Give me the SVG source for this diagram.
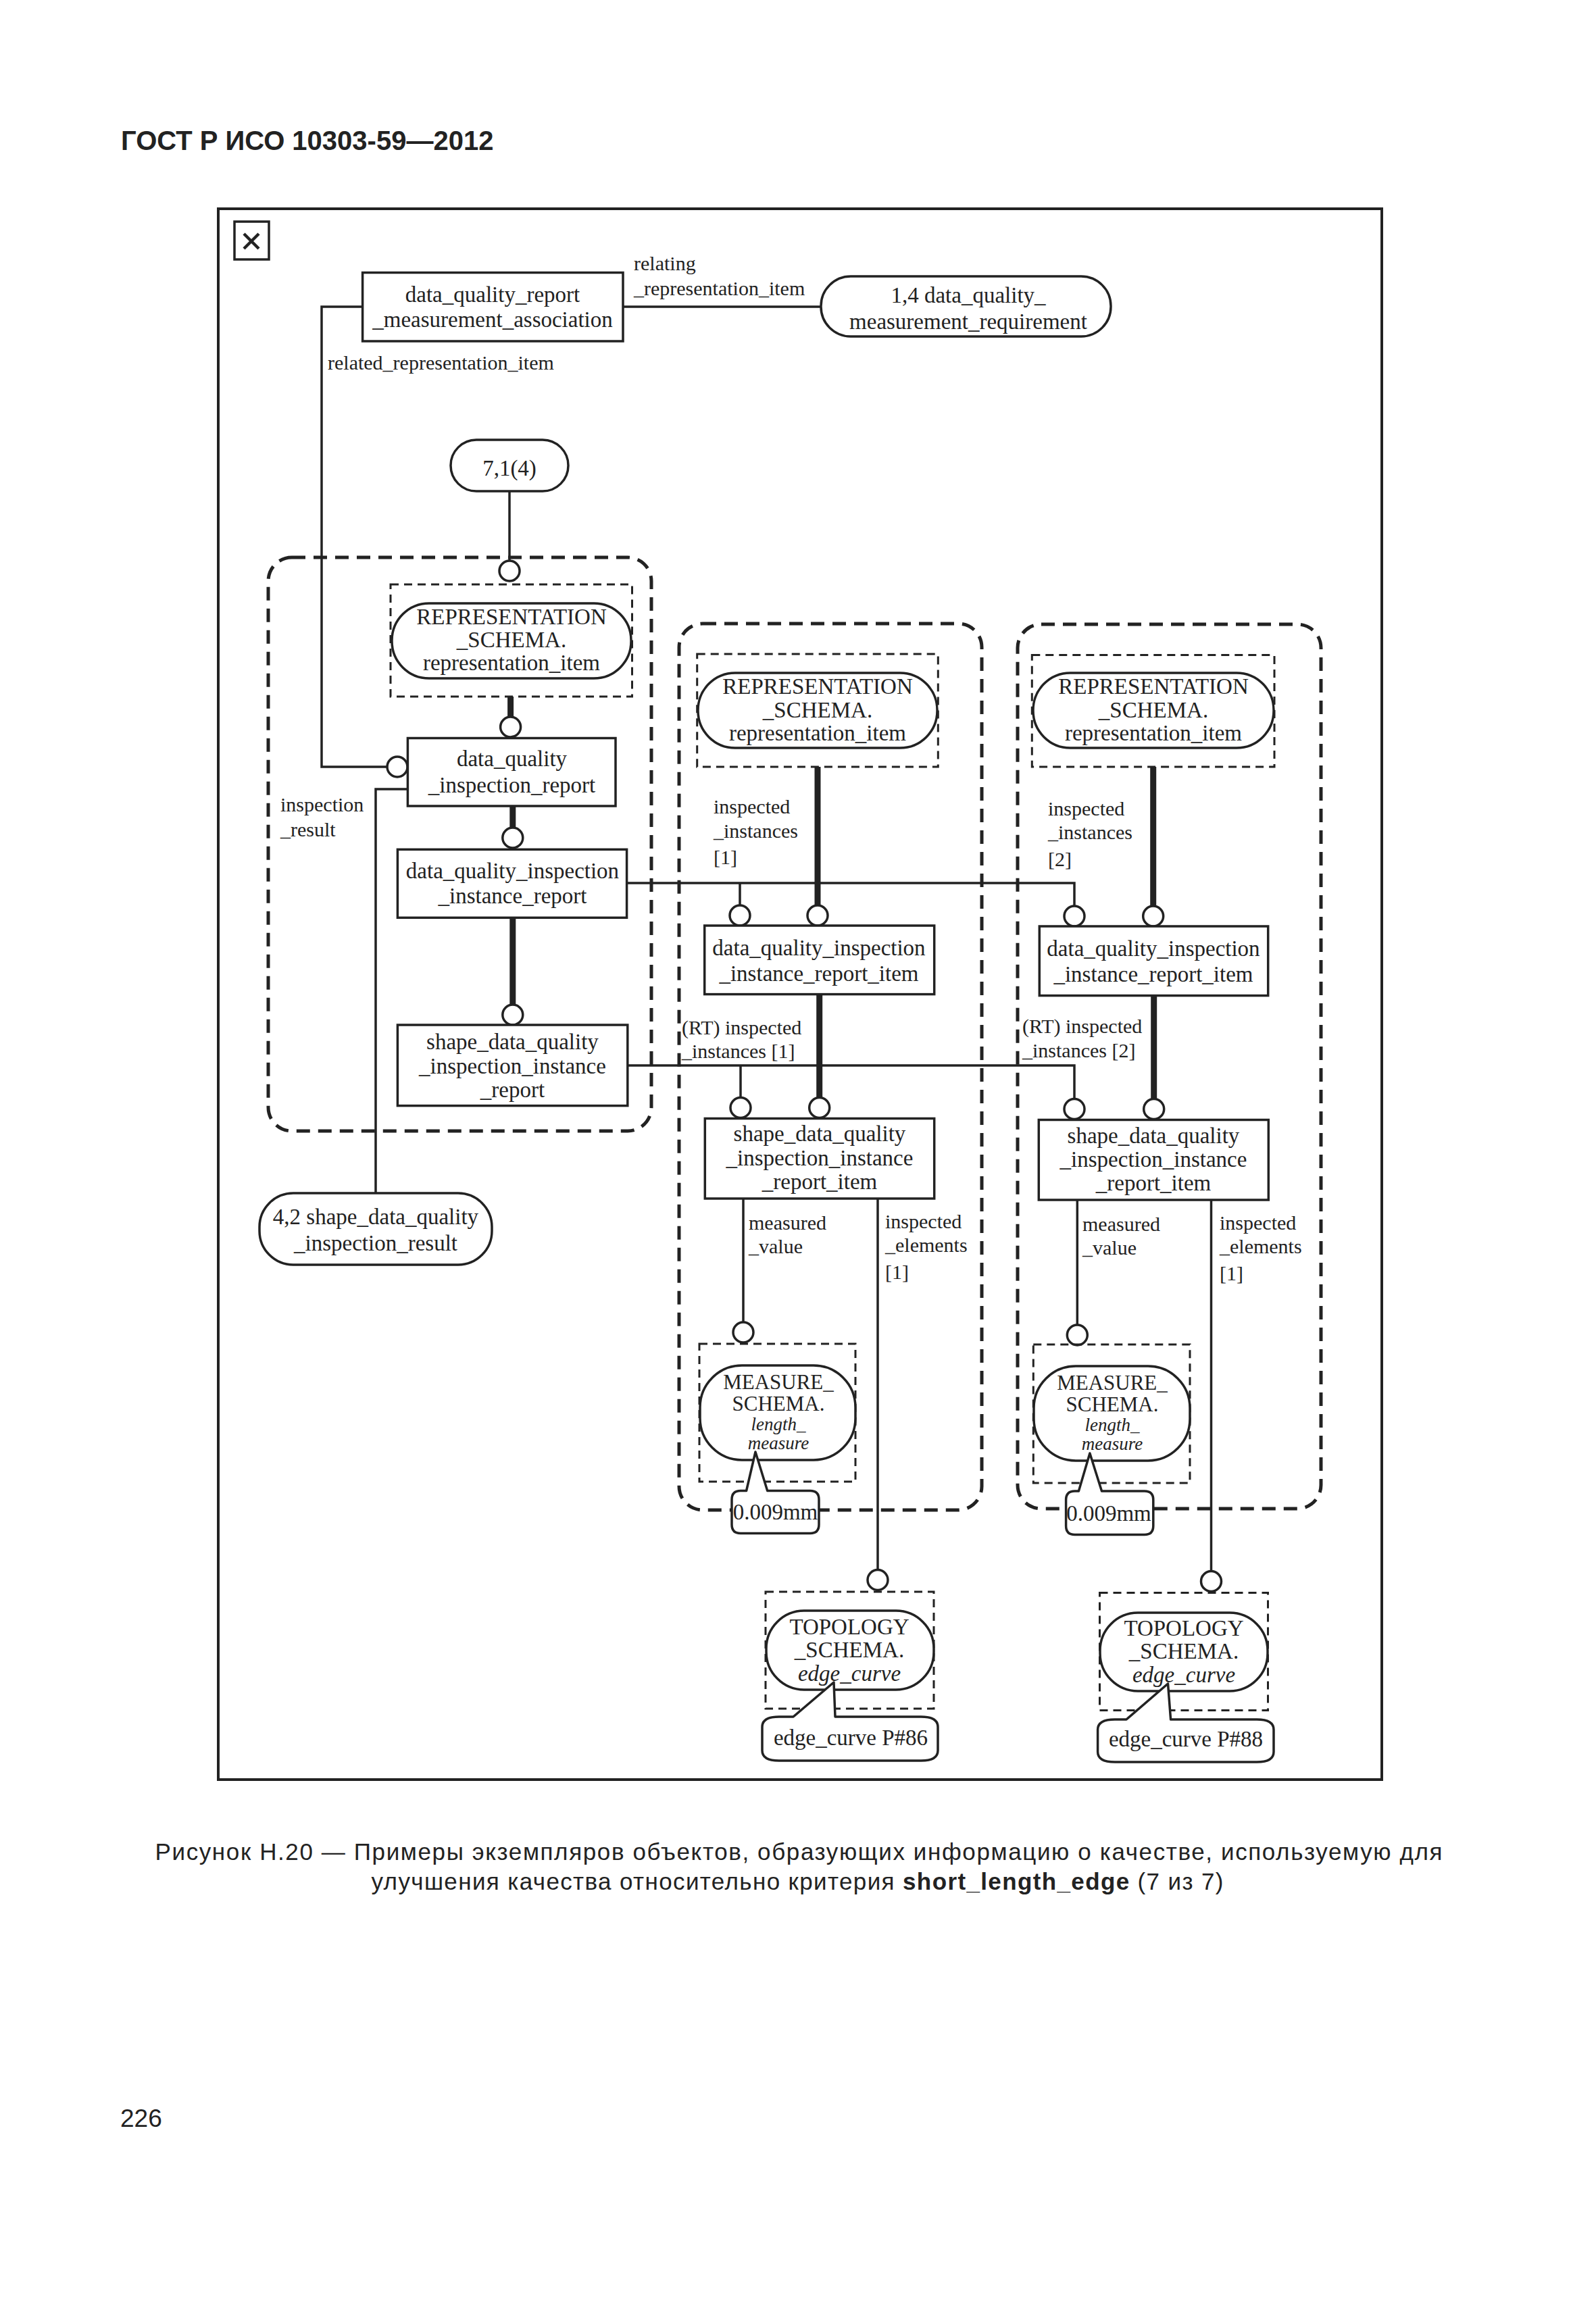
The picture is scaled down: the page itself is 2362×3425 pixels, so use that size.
<svg xmlns="http://www.w3.org/2000/svg" width="2362" height="3425" viewBox="0 0 2362 3425">
<style>
.frame{fill:none;stroke:#222;stroke-width:4}
.box{fill:#fff;stroke:#222;stroke-width:3.5}
.oval{fill:#fff;stroke:#222;stroke-width:3.5}
.grp{fill:none;stroke:#222;stroke-width:5;stroke-dasharray:20 12}
.sch{fill:none;stroke:#222;stroke-width:3;stroke-dasharray:12 8}
.ln{fill:none;stroke:#222;stroke-width:3.5}
.thk{fill:none;stroke:#222;stroke-width:9}
.circ{fill:#fff;stroke:#222;stroke-width:3.5}
.call{fill:#fff;stroke:#222;stroke-width:3.5;stroke-linejoin:round}
.t{font-family:"Liberation Serif","Times New Roman",serif;font-size:33px;fill:#222;text-anchor:middle}
.lb{font-family:"Liberation Serif","Times New Roman",serif;font-size:30px;fill:#222}
.it{font-style:italic}
.ms{font-size:31px}
.mi{font-size:27px}
.sans{font-family:"Liberation Sans",Arial,sans-serif;fill:#222}
</style>

<text class="sans" x="179" y="222" font-size="40" font-weight="bold">ГОСТ Р ИСО 10303-59—2012</text>

<rect class="frame" x="323" y="309" width="1722" height="2325"/>
<g id="close-icon">
<rect x="347" y="328" width="51" height="56" fill="#fff" stroke="#222" stroke-width="3.5"/>
<path d="M361,346 L383,368 M383,346 L361,368" stroke="#222" stroke-width="4.5" fill="none"/>
</g>

<g id="groups">
<rect class="grp" x="397" y="825" width="567" height="849" rx="35" ry="35"/>
<rect class="grp" x="1005" y="923" width="448" height="1312" rx="35" ry="35"/>
<rect class="grp" x="1506" y="924" width="449" height="1309" rx="35" ry="35"/>
</g>

<g id="connectors">
<path class="ln" d="M922,454 L1215,454"/>
<path class="ln" d="M536,454 L476,454 L476,1135 L573,1135"/>
<path class="ln" d="M603,1168 L556,1168 L556,1766"/>
<path class="ln" d="M754,727 L754,830"/>
<path class="thk" d="M755.6,1031 L755.6,1061"/>
<path class="thk" d="M758.8,1193 L758.8,1225"/>
<path class="thk" d="M758.8,1358 L758.8,1487"/>
<path class="ln" d="M927.6,1307 L1590,1307 L1590,1341"/>
<path class="ln" d="M1095,1307 L1095,1340"/>
<path class="ln" d="M928.8,1577 L1590,1577 L1590,1626.5"/>
<path class="ln" d="M1096,1577 L1096,1624.5"/>
<path class="thk" d="M1210,1135 L1210,1340"/>
<path class="thk" d="M1212.7,1471.6 L1212.7,1624.5"/>
<path class="thk" d="M1706.7,1135 L1706.7,1341"/>
<path class="thk" d="M1707.7,1473.6 L1707.7,1626.5"/>
<path class="ln" d="M1100,1774 L1100,1957"/>
<path class="ln" d="M1594.3,1776 L1594.3,1961"/>
<path class="ln" d="M1299,1774 L1299,2323.5"/>
<path class="ln" d="M1792.5,1776 L1792.5,2325.5"/>
<circle class="circ" cx="588" cy="1135" r="15"/>
<circle class="circ" cx="754" cy="845" r="15"/>
<circle class="circ" cx="755.6" cy="1076" r="15"/>
<circle class="circ" cx="758.8" cy="1240" r="15"/>
<circle class="circ" cx="758.8" cy="1502" r="15"/>
<circle class="circ" cx="1095" cy="1355" r="15"/>
<circle class="circ" cx="1210" cy="1355" r="15"/>
<circle class="circ" cx="1590" cy="1356" r="15"/>
<circle class="circ" cx="1706.7" cy="1356" r="15"/>
<circle class="circ" cx="1096" cy="1639.5" r="15"/>
<circle class="circ" cx="1212.7" cy="1639.5" r="15"/>
<circle class="circ" cx="1590" cy="1641.5" r="15"/>
<circle class="circ" cx="1707.7" cy="1641.5" r="15"/>
<circle class="circ" cx="1100" cy="1972" r="15"/>
<circle class="circ" cx="1594.3" cy="1976" r="15"/>
<circle class="circ" cx="1299" cy="2338.5" r="15"/>
<circle class="circ" cx="1792.5" cy="2340.5" r="15"/>
</g>

<g id="labels">
<text class="lb" x="938" y="400">relating</text>
<text class="lb" x="938" y="437">_representation_item</text>
<text class="lb" x="485" y="547">related_representation_item</text>
<text class="lb" x="415" y="1201">inspection</text>
<text class="lb" x="415" y="1238">_result</text>
<text class="lb" x="1056" y="1204">inspected</text>
<text class="lb" x="1056" y="1240">_instances</text>
<text class="lb" x="1056" y="1279">[1]</text>
<text class="lb" x="1551" y="1207">inspected</text>
<text class="lb" x="1551" y="1242">_instances</text>
<text class="lb" x="1551" y="1282">[2]</text>
<text class="lb" x="1009" y="1531">(RT) inspected</text>
<text class="lb" x="1009" y="1566">_instances [1]</text>
<text class="lb" x="1513" y="1529">(RT) inspected</text>
<text class="lb" x="1513" y="1565">_instances [2]</text>
<text class="lb" x="1108" y="1820">measured</text>
<text class="lb" x="1108" y="1855">_value</text>
<text class="lb" x="1602" y="1822">measured</text>
<text class="lb" x="1602" y="1857">_value</text>
<text class="lb" x="1310" y="1818">inspected</text>
<text class="lb" x="1310" y="1853">_elements</text>
<text class="lb" x="1310" y="1893">[1]</text>
<text class="lb" x="1805" y="1820">inspected</text>
<text class="lb" x="1805" y="1855">_elements</text>
<text class="lb" x="1805" y="1895">[1]</text>
</g>

<g id="n-dq-report-assoc">
<rect class="box" x="536.6" y="403.5" width="385.4" height="101.5"/>
<text class="t" x="729" y="447">data_quality_report</text>
<text class="t" x="729" y="484">_measurement_association</text>
</g>
<g id="n-dq-measurement-req">
<rect class="oval" x="1215" y="409" width="429" height="89" rx="44" ry="44"/>
<text class="t" x="1433" y="448">1,4 data_quality_</text>
<text class="t" x="1433" y="487">measurement_requirement</text>
</g>
<g id="n-ref-71">
<rect class="oval" x="667" y="651" width="174" height="76" rx="38" ry="38"/>
<text class="t" x="754" y="704">7,1(4)</text>
</g>
<g id="n-rep-item-1">
<rect class="sch" x="578" y="865" width="357.5" height="166"/>
<rect class="oval" x="580" y="893" width="354" height="111" rx="55" ry="55"/>
<text class="t" x="757" y="924">REPRESENTATION</text>
<text class="t" x="757" y="958">_SCHEMA.</text>
<text class="t" x="757" y="992">representation_item</text>
</g>
<g id="n-dq-insp-report">
<rect class="box" x="603.4" y="1092.5" width="307.6" height="100.5"/>
<text class="t" x="757.5" y="1134">data_quality</text>
<text class="t" x="757.5" y="1173">_inspection_report</text>
</g>
<g id="n-dq-insp-inst-report">
<rect class="box" x="588.4" y="1257.3" width="339.2" height="101"/>
<text class="t" x="758.5" y="1300">data_quality_inspection</text>
<text class="t" x="758.5" y="1337">_instance_report</text>
</g>
<g id="n-shape-dq-insp-inst-report">
<rect class="box" x="588.4" y="1517" width="340.4" height="119.6"/>
<text class="t" x="758.5" y="1553">shape_data_quality</text>
<text class="t" x="758.5" y="1589">_inspection_instance</text>
<text class="t" x="758.5" y="1624">_report</text>
</g>
<g id="n-shape-dq-insp-result">
<rect class="oval" x="384" y="1766" width="344" height="106" rx="50" ry="50"/>
<text class="t" x="556" y="1812">4,2 shape_data_quality</text>
<text class="t" x="556" y="1851">_inspection_result</text>
</g>

<g id="n-rep-item-2">
<rect class="sch" x="1031.7" y="968" width="356.6" height="167"/>
<rect class="oval" x="1033" y="996" width="354" height="111" rx="55" ry="55"/>
<text class="t" x="1210" y="1027">REPRESENTATION</text>
<text class="t" x="1210" y="1062">_SCHEMA.</text>
<text class="t" x="1210" y="1096">representation_item</text>
</g>
<g id="n-item-1">
<rect class="box" x="1042.7" y="1370" width="340" height="101.6"/>
<text class="t" x="1212" y="1414">data_quality_inspection</text>
<text class="t" x="1212" y="1452">_instance_report_item</text>
</g>
<g id="n-shape-item-1">
<rect class="box" x="1043.3" y="1655.5" width="339.4" height="118.5"/>
<text class="t" x="1213" y="1689">shape_data_quality</text>
<text class="t" x="1213" y="1725">_inspection_instance</text>
<text class="t" x="1213" y="1760">_report_item</text>
</g>
<g id="n-measure-1">
<rect class="sch" x="1035" y="1989" width="231" height="204"/>
<rect class="oval" x="1036" y="2021" width="230" height="140" rx="62" ry="62" stroke-width="4.5"/>
<text class="t ms" x="1152" y="2056">MEASURE_</text>
<text class="t ms" x="1152" y="2088">SCHEMA.</text>
<text class="t it mi" x="1152" y="2117">length_</text>
<text class="t it mi" x="1152" y="2145">measure</text>
</g>
<g id="n-value-1">
<path class="call" d="M1096,2206.5 L1104.6,2206.5 L1118,2149 L1135.7,2206.5 L1199,2206.5 Q1212,2206.5 1212,2219.5 L1212,2256.6 Q1212,2269.6 1199,2269.6 L1096,2269.6 Q1083,2269.6 1083,2256.6 L1083,2219.5 Q1083,2206.5 1096,2206.5 Z"/>
<text class="t" x="1147.5" y="2249" font-size="29">0.009mm</text>
</g>
<g id="n-topology-1">
<rect class="sch" x="1133" y="2356" width="249" height="173"/>
<rect class="oval" x="1134" y="2384" width="248" height="117" rx="56" ry="56"/>
<text class="t" x="1257" y="2419">TOPOLOGY</text>
<text class="t" x="1257" y="2453">_SCHEMA.</text>
<text class="t it" x="1257" y="2488" font-size="31">edge_curve</text>
</g>
<g id="n-edge-1">
<path class="call" d="M1153,2541 L1174,2541 L1234,2490 L1236,2541 L1363,2541 Q1388,2541 1388,2556 L1388,2591 Q1388,2606 1363,2606 L1153,2606 Q1128,2606 1128,2591 L1128,2556 Q1128,2541 1153,2541 Z"/>
<text class="t" x="1259" y="2583" font-size="30">edge_curve P#86</text>
</g>

<g id="n-rep-item-3">
<rect class="sch" x="1527.3" y="969.6" width="358.7" height="165.4"/>
<rect class="oval" x="1529" y="996" width="356" height="111" rx="55" ry="55"/>
<text class="t" x="1707" y="1027">REPRESENTATION</text>
<text class="t" x="1707" y="1062">_SCHEMA.</text>
<text class="t" x="1707" y="1096">representation_item</text>
</g>
<g id="n-item-2">
<rect class="box" x="1538.3" y="1371" width="338.4" height="102.6"/>
<text class="t" x="1707" y="1415">data_quality_inspection</text>
<text class="t" x="1707" y="1453">_instance_report_item</text>
</g>
<g id="n-shape-item-2">
<rect class="box" x="1537.3" y="1657.5" width="340" height="118.5"/>
<text class="t" x="1707" y="1692">shape_data_quality</text>
<text class="t" x="1707" y="1727">_inspection_instance</text>
<text class="t" x="1707" y="1762">_report_item</text>
</g>
<g id="n-measure-2">
<rect class="sch" x="1529.3" y="1990" width="231.7" height="205"/>
<rect class="oval" x="1530" y="2022" width="231" height="140" rx="62" ry="62" stroke-width="4.5"/>
<text class="t ms" x="1646" y="2057">MEASURE_</text>
<text class="t ms" x="1646" y="2089">SCHEMA.</text>
<text class="t it mi" x="1646" y="2118">length_</text>
<text class="t it mi" x="1646" y="2146">measure</text>
</g>
<g id="n-value-2">
<path class="call" d="M1590.6,2207 L1596.4,2207 L1612.9,2151 L1630.5,2207 L1693.8,2207 Q1706.8,2207 1706.8,2220 L1706.8,2258.5 Q1706.8,2271.5 1693.8,2271.5 L1590.6,2271.5 Q1577.6,2271.5 1577.6,2258.5 L1577.6,2220 Q1577.6,2207 1590.6,2207 Z"/>
<text class="t" x="1641" y="2251" font-size="29">0.009mm</text>
</g>
<g id="n-topology-2">
<rect class="sch" x="1627.5" y="2357.6" width="249" height="174"/>
<rect class="oval" x="1628" y="2387" width="248" height="116" rx="56" ry="56"/>
<text class="t" x="1752" y="2421">TOPOLOGY</text>
<text class="t" x="1752" y="2455">_SCHEMA.</text>
<text class="t it" x="1752" y="2490" font-size="31">edge_curve</text>
</g>
<g id="n-edge-2">
<path class="call" d="M1650,2545 L1667,2545 L1728.5,2492 L1732.6,2545 L1860,2545 Q1885,2545 1885,2560 L1885,2593 Q1885,2608 1860,2608 L1650,2608 Q1624.6,2608 1624.6,2593 L1624.6,2560 Q1624.6,2545 1650,2545 Z"/>
<text class="t" x="1755" y="2585" font-size="30">edge_curve P#88</text>
</g>

<text class="sans" x="1182" y="2753" font-size="35" text-anchor="middle" textLength="1905" lengthAdjust="spacing">Рисунок Н.20 — Примеры экземпляров объектов, образующих информацию о качестве, используемую для</text>
<text class="sans" x="1180" y="2797" font-size="35" text-anchor="middle" textLength="1261" lengthAdjust="spacing">улучшения качества относительно критерия <tspan font-weight="bold">short_length_edge</tspan> (7 из 7)</text>

<text class="sans" x="178" y="3148" font-size="37">226</text>
</svg>
